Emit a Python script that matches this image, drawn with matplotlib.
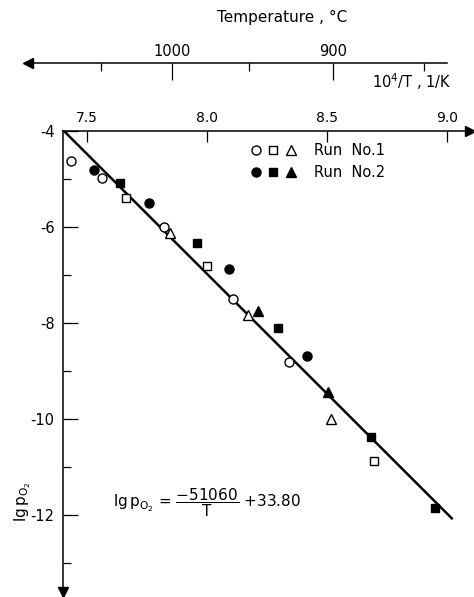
import matplotlib
matplotlib.use("Agg")
import matplotlib.pyplot as plt
from matplotlib.legend_handler import HandlerTuple

# values: x = 10^4/T (1/K), y = lg pO2
run1_circle_x = [7.433, 7.563, 7.822, 8.110, 8.343]
run1_circle_y = [-4.63, -4.97, -5.99, -7.51, -8.81]
run1_square_x = [7.664, 8.001, 8.697]
run1_square_y = [-5.40, -6.81, -10.87]
run1_tri_x = [7.846, 8.172, 8.517]
run1_tri_y = [-6.12, -7.83, -10.00]

run2_circle_x = [7.530, 7.757, 8.090, 8.418]
run2_circle_y = [-4.81, -5.51, -6.88, -8.68]
run2_square_x = [7.636, 7.957, 8.295, 8.682, 8.950]
run2_square_y = [-5.08, -6.33, -8.11, -10.37, -11.86]
run2_tri_x = [8.214, 8.506]
run2_tri_y = [-7.74, -9.43]

fit_x = [7.40, 9.02]
fit_y = [-3.98, -12.07]

x_ticks = [7.5, 8.0, 8.5, 9.0]
x_labels = ["7.5", "8.0", "8.5", "9.0"]
y_major = [-4, -6, -8, -10, -12]
y_major_labels = ["-4", "-6", "-8", "-10", "-12"]
y_minor = [-5, -7, -9, -11, -13]
temp_major = [1000, 900]
temp_minor = [1050, 950, 850]

W, H = 474, 597
fig = plt.figure(figsize=(W / 100, H / 100), dpi=100)

# main axes: left spine at px 63, top spine at px 131
left, top, right, bottom = 63, 131, 470, 592
ax = fig.add_axes([left / W, 1 - bottom / H, (right - left) / W, (bottom - top) / H])
x0 = 7.4
ax.set_xlim(x0, 7.5 + (right - 87) / 240)
ax.set_ylim(-4 - (bottom - top) / 48, -4)

for s in ["right", "bottom"]:
    ax.spines[s].set_visible(False)
for s in ["top", "left"]:
    ax.spines[s].set_linewidth(1.1)

ax.xaxis.set_ticks_position("top")
ax.xaxis.set_label_position("top")
ax.set_xticks(x_ticks, x_labels)
ax.tick_params(axis="x", direction="in", length=8, width=0.9, pad=4, labelsize=10)
ax.set_yticks(y_major, y_major_labels)
ax.set_yticks(y_minor, minor=True)
ax.tick_params(axis="y", which="major", direction="in", length=11, width=0.9, pad=6, labelsize=10.5)
ax.tick_params(axis="y", which="minor", direction="in", length=6, width=0.9)

# arrow heads on the axes
ax.plot([1], [1], marker=">", color="black", markersize=7, transform=ax.transAxes, clip_on=False)
ax.plot([0], [0], marker="v", color="black", markersize=7, transform=ax.transAxes, clip_on=False)

ax.plot(fit_x, fit_y, color="black", linewidth=1.8, zorder=2)

ms = 6.5
c1, = ax.plot(run1_circle_x, run1_circle_y, "o", mfc="white", mec="black", mew=1.0, ms=ms, zorder=3)
s1, = ax.plot(run1_square_x, run1_square_y, "s", mfc="white", mec="black", mew=1.0, ms=ms - 0.5, zorder=3)
t1, = ax.plot(run1_tri_x, run1_tri_y, "^", mfc="white", mec="black", mew=1.0, ms=ms, zorder=3)
c2, = ax.plot(run2_circle_x, run2_circle_y, "o", color="black", ms=ms, zorder=3)
s2, = ax.plot(run2_square_x, run2_square_y, "s", color="black", ms=ms - 0.5, zorder=3)
t2, = ax.plot(run2_tri_x, run2_tri_y, "^", color="black", ms=ms, zorder=3)

ax.legend([(c1, s1, t1), (c2, s2, t2)], ["Run  No.1", "Run  No.2"],
          handler_map={tuple: HandlerTuple(ndivide=None, pad=0.6)},
          loc="upper left", bbox_to_anchor=(238 / W, 1 - 130 / H), bbox_transform=fig.transFigure,
          frameon=False, fontsize=10.5, handlelength=3.0, handletextpad=1.3, labelspacing=0.5)

ax.text(372 / W, 1 - 82 / H, r"10$^4$/T , 1/K", transform=fig.transFigure,
        ha="left", va="center", fontsize=10.5)
fig.text(23 / W, 1 - 502 / H, r"lg$\,$p$_{\mathrm{O_2}}$", rotation=90, ha="center", va="center", fontsize=11)
fig.text(113 / W, 1 - 503 / H, r"lg$\,$p$_{\mathrm{O_2}}$ = $\dfrac{-51060}{\mathrm{T}}$ +33.80",
         ha="left", va="center", fontsize=11)

# temperature axis on top: same 10^4/T scale, ticks at 10^4/(t+273.15)
t_left, t_right, t_y = 28, 447, 63
ax_t = fig.add_axes([t_left / W, 1 - t_y / H, (t_right - t_left) / W, 0.0001])
ax_t.set_xlim(7.5 + (t_left - 87) / 240, 7.5 + (t_right - 87) / 240)
ax_t.set_yticks([])
for s in ["right", "bottom", "left"]:
    ax_t.spines[s].set_visible(False)
ax_t.spines["top"].set_linewidth(1.1)
ax_t.patch.set_visible(False)
ax_t.xaxis.set_ticks_position("top")
ax_t.set_xticks([1e4 / (t + 273.15) for t in temp_major], [str(t) for t in temp_major])
ax_t.set_xticks([1e4 / (t + 273.15) for t in temp_minor], minor=True)
ax_t.tick_params(axis="x", which="major", direction="in", length=12, width=0.9, pad=3, labelsize=10.5)
ax_t.tick_params(axis="x", which="minor", direction="in", length=6, width=0.9)
ax_t.plot([0], [1], marker="<", color="black", markersize=7, transform=ax_t.transAxes, clip_on=False)
fig.text(282 / W, 1 - 17 / H, "Temperature , \u00b0C", ha="center", va="center", fontsize=11)

fig.savefig("out.png", dpi=100)
